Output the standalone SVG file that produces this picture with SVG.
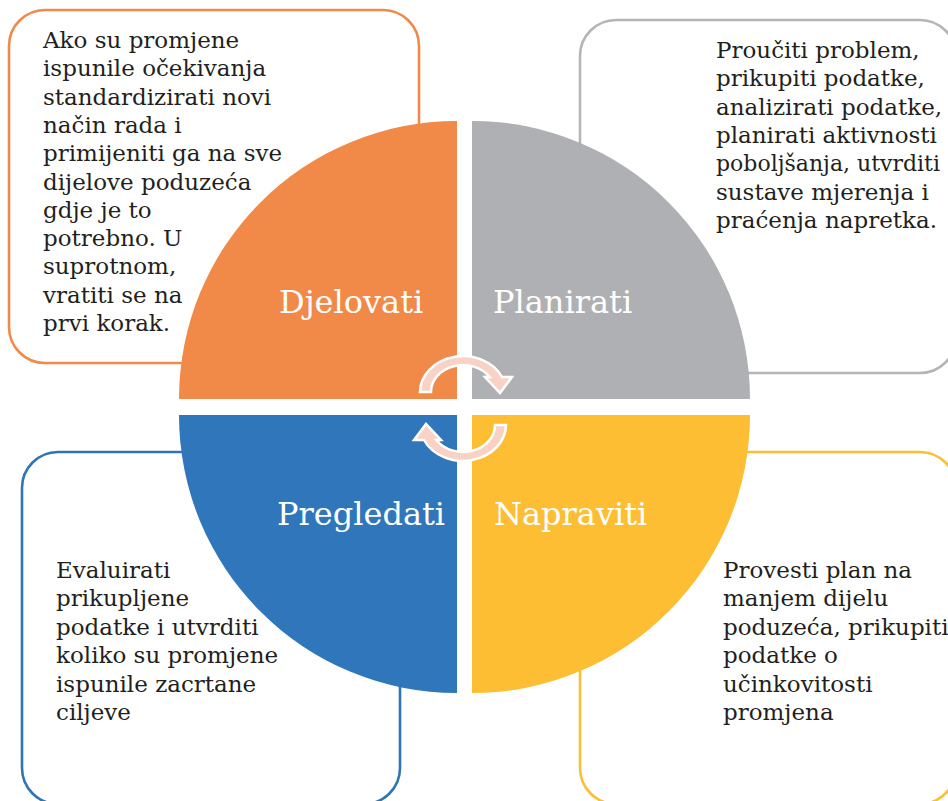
<svg xmlns="http://www.w3.org/2000/svg" width="948" height="801" viewBox="0 0 948 801">
<style>
.box{fill:#ffffff;stroke-width:2.6}
.txt{font-family:"DejaVu Serif","Liberation Serif",serif;font-size:23px;fill:#231f20}
.lbl{font-family:"DejaVu Serif","Liberation Serif",serif;font-size:32px;fill:#ffffff}
.arr{fill:#f8d3c5;stroke:#ffffff;stroke-width:2.5;stroke-linejoin:miter}
</style>
<rect width="948" height="801" fill="#ffffff"/>
<g id="box-djelovati">
<rect class="box" x="9" y="10" width="410" height="353" rx="36" stroke="#f08a4b"/>
<text class="txt" x="43" y="48"><tspan x="43" dy="0">Ako su promjene</tspan><tspan x="43" dy="28.3">ispunile očekivanja</tspan><tspan x="43" dy="28.3">standardizirati novi</tspan><tspan x="43" dy="28.3">način rada i</tspan><tspan x="43" dy="28.3">primijeniti ga na sve</tspan><tspan x="43" dy="28.3">dijelove poduzeća</tspan><tspan x="43" dy="28.3">gdje je to</tspan><tspan x="43" dy="28.3">potrebno. U</tspan><tspan x="43" dy="28.3">suprotnom,</tspan><tspan x="43" dy="28.3">vratiti se na</tspan><tspan x="43" dy="28.3">prvi korak.</tspan></text>
</g>
<g id="box-planirati">
<rect class="box" x="580" y="20" width="376" height="353" rx="36" stroke="#b4b5b8"/>
<text class="txt" x="716" y="58"><tspan x="716" dy="0">Proučiti problem,</tspan><tspan x="716" dy="28.3">prikupiti podatke,</tspan><tspan x="716" dy="28.3">analizirati podatke,</tspan><tspan x="716" dy="28.3">planirati aktivnosti</tspan><tspan x="716" dy="28.3" style="font-size:22px">poboljšanja, utvrditi</tspan><tspan x="716" dy="28.3">sustave mjerenja i</tspan><tspan x="716" dy="28.3">praćenja napretka.</tspan></text>
</g>
<g id="box-pregledati">
<rect class="box" x="22" y="452" width="378" height="352" rx="36" stroke="#2e75b6"/>
<text class="txt" x="56" y="578"><tspan x="56" dy="0">Evaluirati</tspan><tspan x="56" dy="28.4">prikupljene</tspan><tspan x="56" dy="28.4">podatke i utvrditi</tspan><tspan x="56" dy="28.4">koliko su promjene</tspan><tspan x="56" dy="28.4">ispunile zacrtane</tspan><tspan x="56" dy="28.4">ciljeve</tspan></text>
</g>
<g id="box-napraviti">
<rect class="box" x="580" y="452" width="376" height="352" rx="36" stroke="#fbbe35"/>
<text class="txt" x="723" y="578"><tspan x="723" dy="0">Provesti plan na</tspan><tspan x="723" dy="28.4">manjem dijelu</tspan><tspan x="723" dy="28.4">poduzeća, prikupiti</tspan><tspan x="723" dy="28.4">podatke o</tspan><tspan x="723" dy="28.4">učinkovitosti</tspan><tspan x="723" dy="28.4">promjena</tspan></text>
</g>
<g id="q-djelovati">
<path d="M457 399 L179 399 A278 278 0 0 1 457 121 Z" fill="#f18948"/>
<text class="lbl" x="279" y="313">Djelovati</text>
</g>
<g id="q-planirati">
<path d="M472 399 L472 121 A278 278 0 0 1 750 399 Z" fill="#afb0b3"/>
<text class="lbl" x="493" y="313">Planirati</text>
</g>
<g id="q-pregledati">
<path d="M457 415 L457 693 A278 278 0 0 1 179 415 Z" fill="#2f76ba"/>
<text class="lbl" x="277" y="525">Pregledati</text>
</g>
<g id="q-napraviti">
<path d="M472 415 L750 415 A278 278 0 0 1 472 693 Z" fill="#fdbe34"/>
<text class="lbl" x="494" y="525">Napraviti</text>
</g>
<g id="connectors">
<path class="arr" d="M420 392 A43 36 0 0 1 502 377 L512 377 L500 393 L485 377 L489.6 377 A32 27 0 0 0 431 392 Z"/>
<path class="arr" transform="rotate(180 463 408.5)" d="M420 392 A43 36 0 0 1 502 377 L512 377 L500 393 L485 377 L489.6 377 A32 27 0 0 0 431 392 Z"/>
</g>
</svg>
